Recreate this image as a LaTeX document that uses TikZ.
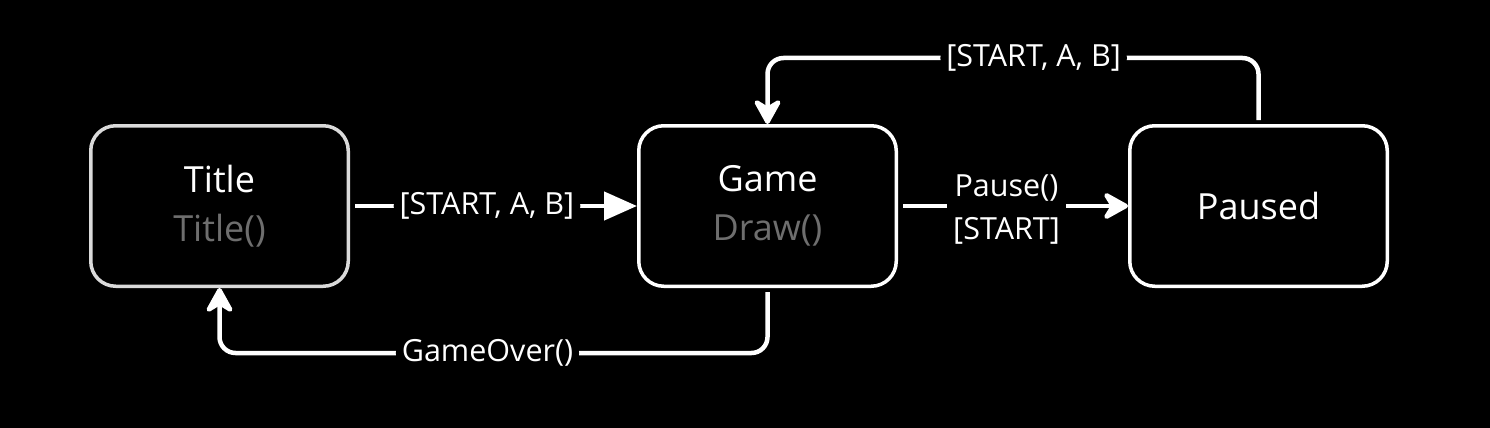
\documentclass[tikz,border=0pt]{standalone}
\usepackage{fontspec}
\setmainfont{Open Sans}
\usetikzlibrary{arrows.meta}
\definecolor{subgray}{HTML}{6E6E6E}
\definecolor{titleborder}{HTML}{DADADA}
\begin{document}
\begin{tikzpicture}[x=1pt,y=-1pt,
  state/.style={draw=white, line width=3.5pt, rounded corners=25pt, minimum width=257.5pt, minimum height=160.5pt, inner sep=0pt, align=center, font=\fontsize{36}{53}\selectfont, text=white},
  conn/.style={draw=white, line width=4.5pt, rounded corners=16pt},
  lbl/.style={fill=black, text=white, font=\fontsize{30.5}{43}\selectfont, inner xsep=6pt, inner ysep=2pt, align=center},
  tri/.style={-{Triangle[length=33pt,width=28pt]}},
  stl/.style={-{Stealth[length=30pt,width=33pt,inset=10pt,round]}}
]
\fill[black] (0,0) rectangle (1490,428);
\useasboundingbox (0,0) rectangle (1490,428);
\node[state, draw=titleborder] (title) at (219.5,206) {\raisebox{-4pt}{Title}\\\textcolor{subgray}{Title()}};
\node[state] (game) at (767.5,206) {\raisebox{-4pt}{Game}\\\textcolor{subgray}{Draw()}};
\node[state] (paused) at (1258.5,206) {Paused};
\coordinate (topy) at (0,58);
\coordinate (boty) at (0,353);
\draw[conn, tri] ([xshift=5pt]title.east) -- node[lbl, pos=0.468] {[START, A, B]} (game.west);
\draw[conn, stl] ([xshift=5pt]game.east) -- node[lbl, pos=0.46, yshift=-4pt] {Pause()\\{}[START]} (paused.west);
\draw[conn, stl] ([yshift=4pt]paused.north) -- (paused.north |- topy) -- node[lbl, pos=0.458] {[START, A, B]} (game.north |- topy) -- (game.north);
\draw[conn, stl] ([yshift=-4pt]game.south) -- (game.south |- boty) -- node[lbl, pos=0.511] {GameOver()} (title.south |- boty) -- (title.south);
\end{tikzpicture}
\end{document}
